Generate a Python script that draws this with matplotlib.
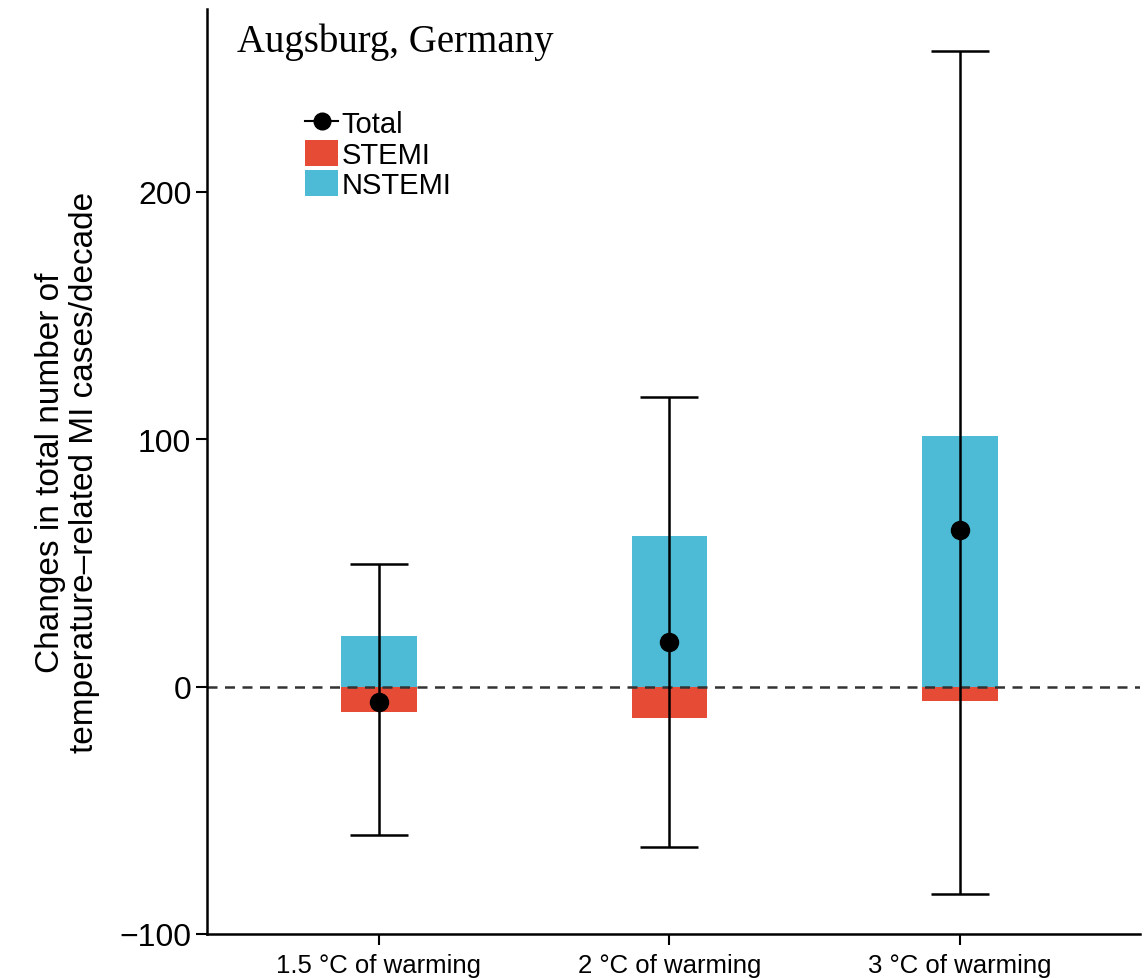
# Augsburg MI cases under warming scenarios
import numpy as np
import matplotlib.pyplot as plt
from matplotlib.lines import Line2D
from matplotlib.patches import Patch

scenarios = ['1.5 °C of warming', '2 °C of warming', '3 °C of warming']
nstemi = [20.6, 60.8, 101.2]
stemi = [-10.3, -12.8, -5.8]
total = [-6.3, 18.2, 63.2]
total_low = [-60.0, -64.8, -83.8]
total_high = [49.4, 117.0, 257.0]

red = '#E64B35'
cyan = '#4DBBD5'
sans = ['Liberation Sans', 'DejaVu Sans']

fig = plt.figure(figsize=(11.45, 9.79), dpi=100)
ax = fig.add_axes([0.181, 0.045, 0.815, 0.945])

x = np.arange(1, len(scenarios) + 1)
ax.bar(x, nstemi, width=0.26, color=cyan, zorder=1)
ax.bar(x, stemi, width=0.26, color=red, zorder=1)
ax.axhline(0, color='#333333', lw=1.8, ls=(0, (4, 3)), zorder=2)

yerr = [np.array(total) - np.array(total_low), np.array(total_high) - np.array(total)]
ax.errorbar(x, total, yerr=yerr, fmt='o', color='black', ms=13, elinewidth=1.8,
            capsize=21, capthick=1.8, zorder=3)

ax.set_xlim(0.41, 3.62)
ax.set_ylim(-100, 274)
ax.set_yticks([-100, 0, 100, 200])
ax.set_yticklabels(['\u2212100', '0', '100', '200'], fontsize=23, family=sans)
ax.set_xticks(x)
ax.set_xticklabels(scenarios, fontsize=18.5, family=sans)
ax.tick_params(axis='y', length=8, width=1.5, direction='out')
ax.tick_params(axis='x', length=8, width=1.5, direction='out', pad=6)

for s in ['top', 'right']:
    ax.spines[s].set_visible(False)
ax.spines['left'].set_linewidth(1.8)
ax.spines['bottom'].set_linewidth(1.8)

ax.set_ylabel('Changes in total number of\ntemperature\u2013related MI cases/decade',
              fontsize=24, family=sans, labelpad=14, linespacing=1.1)

ax.text(0.032, 0.985, 'Augsburg, Germany', transform=ax.transAxes, fontsize=28,
        family=['Liberation Serif', 'DejaVu Serif'], va='top', ha='left')

handles = [Line2D([0], [0], color='black', marker='o', ms=12, lw=1.5),
           Patch(facecolor=red), Patch(facecolor=cyan)]
ax.legend(handles, ['Total', 'STEMI', 'NSTEMI'], loc='upper left',
          bbox_to_anchor=(0.092, 0.904), frameon=False,
          handlelength=1.15, handleheight=1.0, handletextpad=0.12,
          labelspacing=0.05, borderaxespad=0,
          prop={'family': sans, 'size': 21})

fig.savefig('out.png', dpi=100)
